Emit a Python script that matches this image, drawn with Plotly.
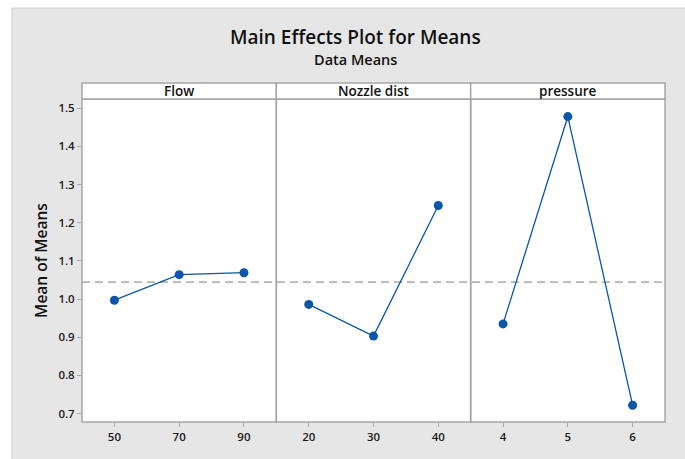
import plotly.graph_objects as go

factors = ["Flow", "Nozzle dist", "pressure"]
flow_levels = ["50", "70", "90"]
flow_means = [0.997, 1.064, 1.069]
nozzle_levels = ["20", "30", "40"]
nozzle_means = [0.986, 0.903, 1.245]
pressure_levels = ["4", "5", "6"]
pressure_means = [0.935, 1.478, 0.722]
y_ticks = [0.7, 0.8, 0.9, 1.0, 1.1, 1.2, 1.3, 1.4, 1.5]

levels = [flow_levels, nozzle_levels, pressure_levels]
means = [flow_means, nozzle_means, pressure_means]
all_vals = flow_means + nozzle_means + pressure_means
grand_mean = sum(all_vals) / len(all_vals)

W, H = 685, 459
L, R, T, B = 82, 20, 99, 37
pw = W - L - R
ph = H - T - B

def px(x):
    return (x - L) / pw

def py(y):
    return (H - B - y) / ph

BLUE = "#0a56a8"
GRID = "#a6a6a6"
FONT = "Open Sans, Noto Sans, sans-serif"

fig = go.Figure()
domains = [(0, 1/3), (1/3, 2/3), (2/3, 1)]
for i in range(3):
    xa = "x" if i == 0 else f"x{i+1}"
    fig.add_trace(go.Scatter(
        x=levels[i], y=means[i], xaxis=xa, yaxis="y", mode="lines+markers",
        line=dict(color=BLUE, width=1.3),
        marker=dict(color=BLUE, size=9),
        showlegend=False, hoverinfo="skip"))
    key = "xaxis" if i == 0 else f"xaxis{i+1}"
    fig.layout[key] = dict(
        domain=list(domains[i]), anchor="y", type="category",
        range=[-0.5, 2.5], showgrid=False, zeroline=False, showline=False,
        ticks="outside", ticklen=4, tickcolor=GRID,
        tickfont=dict(family=FONT, size=11.5, color="#1a1a1a", weight=600),
        categoryorder="array", categoryarray=levels[i])

fig.update_layout(
    width=W, height=H,
    margin=dict(l=L, r=R, t=T, b=B, pad=0),
    paper_bgcolor="#e6e6e6", plot_bgcolor="white",
    yaxis=dict(range=[0.678, 1.524], tickvals=y_ticks, tickformat=".1f",
               showgrid=False, zeroline=False, showline=False,
               ticks="outside", ticklen=4, tickcolor=GRID,
               tickfont=dict(family=FONT, size=11.5, color="#1a1a1a", weight=600),
               title=dict(text="Mean of Means", standoff=6,
                          font=dict(family=FONT, size=15.5, color="#111111", weight=600))),
)

shapes = []
# white outer margins
shapes.append(dict(type="rect", xref="paper", yref="paper", x0=px(0), x1=px(12),
                   y0=py(H), y1=py(0), fillcolor="white", line=dict(width=0), layer="below"))
shapes.append(dict(type="rect", xref="paper", yref="paper", x0=px(0), x1=px(W),
                   y0=py(8), y1=py(0), fillcolor="white", line=dict(width=0), layer="below"))
shapes.append(dict(type="line", xref="paper", yref="paper", x0=px(12), x1=px(W),
                   y0=py(8), y1=py(8), line=dict(color="#d0d0d0", width=1)))
shapes.append(dict(type="line", xref="paper", yref="paper", x0=px(12), x1=px(12),
                   y0=py(8), y1=py(H), line=dict(color="#d0d0d0", width=1)))
# grand mean reference line
shapes.append(dict(type="line", xref="paper", yref="y", x0=0, x1=1,
                   y0=grand_mean, y1=grand_mean, layer="below",
                   line=dict(color="#b3b3b3", width=1.8, dash="8px,5px")))
# panel frames and strip headers
for i in range(3):
    shapes.append(dict(type="rect", xref="paper", yref="paper",
                       x0=domains[i][0], x1=domains[i][1], y0=0, y1=1,
                       line=dict(color=GRID, width=1.5)))
    shapes.append(dict(type="rect", xref="paper", yref="paper",
                       x0=domains[i][0], x1=domains[i][1], y0=1, y1=py(83),
                       fillcolor="white", line=dict(color=GRID, width=1.5)))
fig.update_layout(shapes=shapes)

ann = []
for i in range(3):
    ann.append(dict(text=factors[i],
                    xref="paper", yref="paper",
                    x=(domains[i][0] + domains[i][1]) / 2, y=(1 + py(83)) / 2,
                    showarrow=False, xanchor="center", yanchor="middle",
                    font=dict(family=FONT, size=13.5, color="#111111", weight=600)))
ann.append(dict(text="Main Effects Plot for Means", xref="paper", yref="paper",
                x=px(355), y=py(37), showarrow=False, xanchor="center", yanchor="middle",
                font=dict(family=FONT, size=19, color="#111111", weight=600)))
ann.append(dict(text="Data Means", xref="paper", yref="paper",
                x=px(355), y=py(60), showarrow=False, xanchor="center", yanchor="middle",
                font=dict(family=FONT, size=14.5, color="#111111", weight=600)))
fig.update_layout(annotations=ann)

fig.write_html("out.html", config={"displayModeBar": False},
               post_script="document.body.style.margin='0';document.body.style.overflow='hidden';")
